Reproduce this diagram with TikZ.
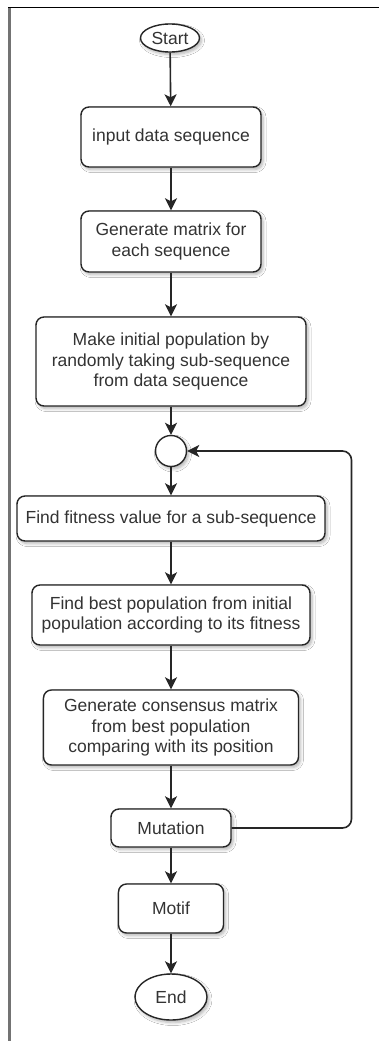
\documentclass[tikz,border=0pt]{standalone}
\usepackage{fontspec}
\setmainfont{Liberation Sans}
\usetikzlibrary{arrows.meta,shadows,shadows.blur,shapes.geometric}

\begin{document}
\begin{tikzpicture}[x=1pt,y=-1pt,
  font=\fontsize{17.5}{20.5}\selectfont,
  every node/.append style={text=black!80},
  softshadow/.style={blur shadow={shadow blur steps=6, shadow xshift=2pt,
      shadow yshift=-2.5pt, shadow blur radius=3pt, shadow opacity=30}},
  procbox/.style={draw=black!85, line width=1.4pt, rounded corners=8pt,
      fill=white, align=center, inner sep=0pt, softshadow},
  terminal/.style={ellipse, draw=black!85, line width=1.4pt, fill=white,
      inner sep=0pt, softshadow},
  junction/.style={circle, draw=black!85, line width=1.4pt, fill=white,
      minimum size=31pt, inner sep=0pt, softshadow},
  flow/.style={draw=black!85, line width=1.6pt,
      -{Stealth[length=12pt, width=12pt, inset=3pt]}}
]
\useasboundingbox (0,0) rectangle (379,1041);
\fill[white] (0,0) rectangle (379,1041);

% outer frame (top and left edges)
\draw[black, line width=1pt] (8,8) -- (379,8);
\draw[black!55, line width=2.5pt] (9.5,8) -- (9.5,1041);

% flowchart steps
\node[terminal, minimum width=59pt, minimum height=28pt] (start) at (170,38) {Start};
\node[procbox, minimum width=180pt, minimum height=60pt] (input) at (171,137)
  {input data sequence};
\node[procbox, minimum width=180pt, minimum height=61pt] (matrix) at (171,241.5)
  {Generate matrix for\\each sequence};
\node[procbox, minimum width=270pt, minimum height=89pt] (initpop) at (171,361.5)
  {Make initial population by\\randomly taking sub-sequence\\from data sequence};
\node[junction] (junc) at (171,451) {};
\node[procbox, minimum width=308pt, minimum height=45pt] (fitness) at (171,518.5)
  {Find fitness value for a sub-sequence};
\node[procbox, minimum width=278pt, minimum height=60pt] (best) at (171,615)
  {Find best population from initial\\population according to its fitness};
\node[procbox, minimum width=255pt, minimum height=75pt] (consensus) at (171,727.5)
  {Generate consensus matrix\\from best population\\comparing with its position};
\node[procbox, minimum width=120pt, minimum height=38pt] (mutation) at (171,828)
  {Mutation};
\node[procbox, minimum width=105pt, minimum height=49pt] (motif) at (171,908.5)
  {Motif};
\node[terminal, minimum width=72pt, minimum height=46pt] (end) at (171,997) {End};

% connectors
\draw[flow] (start) -- (input);
\draw[flow] (input) -- (matrix);
\draw[flow] (matrix) -- (initpop);
\draw[flow] (initpop) -- (junc);
\draw[flow] (junc) -- (fitness);
\draw[flow] (fitness) -- (best);
\draw[flow] (best) -- (consensus);
\draw[flow] (consensus) -- (mutation);
\draw[flow] (mutation) -- (motif);
\draw[flow] (motif) -- (end);

% loop back from mutation to the junction
\coordinate (loopx) at (351.5,828);
\draw[flow, rounded corners=9pt] (mutation.east) -- (loopx) |- (junc.east);
\end{tikzpicture}
\end{document}
